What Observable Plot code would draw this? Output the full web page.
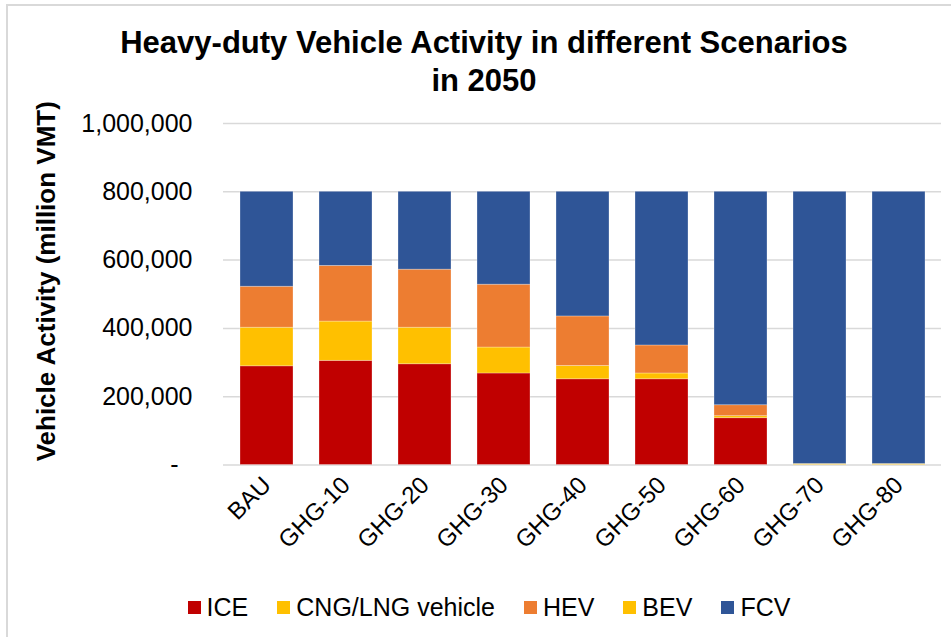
<!DOCTYPE html>
<html>
<head>
<meta charset="utf-8">
<script src="https://cdn.jsdelivr.net/npm/d3@7"></script>
<script src="https://cdn.jsdelivr.net/npm/@observablehq/plot@0.6"></script>
<style>
  html, body { margin: 0; padding: 0; background: #fff; }
  body { font-family: "Liberation Sans", Arial, sans-serif; color: #000; }
  #wrap { position: relative; width: 951px; height: 637px; overflow: hidden; background: #fff; }
  #frame { position: absolute; left: 6px; top: 4px; right: -10px; bottom: -10px;
           border-left: 2px solid #d9d9d9; border-top: 2px solid #d9d9d9; pointer-events: none; }
  #title { position: absolute; left: 0; top: 0; width: 968px; height: 110px; text-align: center;
           font-weight: bold; font-size: 31px; line-height: 38px; padding-top: 24px; box-sizing: border-box; }
  #chart { position: absolute; left: 0; top: 110px; }
  #legend { position: absolute; left: 0; top: 593px; width: 978px; display: flex; justify-content: center;
            align-items: center; font-size: 25px; gap: 29px; }
  .item { display: flex; align-items: center; gap: 6px; }
  .sw { width: 13px; height: 13px; display: inline-block; }
</style>
</head>
<body>
<div id="wrap">
  <div id="frame"></div>
  <div id="title">Heavy-duty Vehicle Activity in different Scenarios<br>in 2050</div>
  <div id="chart"></div>
  <div id="legend"></div>
</div>
<script>
const scenarios = ["BAU", "GHG-10", "GHG-20", "GHG-30", "GHG-40", "GHG-50", "GHG-60", "GHG-70", "GHG-80"];
const seriesNames = ["ICE", "CNG/LNG vehicle", "HEV", "BEV", "FCV"];
const seriesColors = ["#C00000", "#FFC000", "#ED7D31", "#FFC000", "#2F5597"];
// million VMT
const ICE = [289000, 305000, 295000, 268000, 251000, 251000, 137000, 0, 0];
const CNG = [113000, 115000, 107000, 76000, 39000, 17000, 6000, 3000, 3000];
const HEV = [120000, 163000, 170000, 184000, 145000, 82000, 32000, 0, 0];
const BEV = [0, 0, 0, 0, 0, 0, 0, 0, 0];
const FCV = [278000, 217000, 228000, 272000, 365000, 450000, 625000, 797000, 797000];
const yTicks = [0, 200000, 400000, 600000, 800000, 1000000];

const seriesValues = [ICE, CNG, HEV, BEV, FCV];
const data = [];
seriesNames.forEach((s, i) => {
  scenarios.forEach((c, j) => data.push({scenario: c, series: s, value: seriesValues[i][j]}));
});

const fmt = d3.format(",");
const chart = Plot.plot({
  width: 951,
  height: 480,
  marginTop: 13,
  marginBottom: 125.5,
  marginLeft: 223,
  marginRight: 10,
  style: {fontFamily: "Liberation Sans, Arial, sans-serif", color: "#000", background: "transparent", overflow: "visible"},
  x: {domain: scenarios, paddingInner: 0.33, paddingOuter: 0.165, label: null},
  y: {domain: [0, 1000000], label: null},
  color: {domain: seriesNames, range: seriesColors},
  marks: [
    Plot.gridY(yTicks, {stroke: "#d9d9d9", strokeOpacity: 1, strokeWidth: 1.5}),
    Plot.barY(data, Plot.stackY({x: "scenario", y: "value", z: "series", fill: "series",
      stroke: "#ffffff", strokeOpacity: 0.35, strokeWidth: 0.8, order: seriesNames})),
    Plot.axisY(yTicks, {tickSize: 0, tickPadding: 31, fontSize: 25, label: null,
      tickFormat: d => d === 0 ? "-\u00A0\u00A0" : fmt(d)}),
    Plot.axisX({tickRotate: -45, tickSize: 0, tickPadding: 16, fontSize: 24, label: null}),
    Plot.text(["Vehicle Activity (million VMT)"], {frameAnchor: "left", dx: -177, dy: -13, rotate: -90,
      fontWeight: "bold", fontSize: 26, fill: "#000", textAnchor: "middle", lineAnchor: "middle"})
  ]
});
document.getElementById("chart").appendChild(chart);

const legend = document.getElementById("legend");
seriesNames.forEach((s, i) => {
  const it = document.createElement("div");
  it.className = "item";
  const sw = document.createElement("span");
  sw.className = "sw";
  sw.style.background = seriesColors[i];
  const tx = document.createElement("span");
  tx.textContent = s;
  it.appendChild(sw); it.appendChild(tx);
  legend.appendChild(it);
});
</script>
</body>
</html>
